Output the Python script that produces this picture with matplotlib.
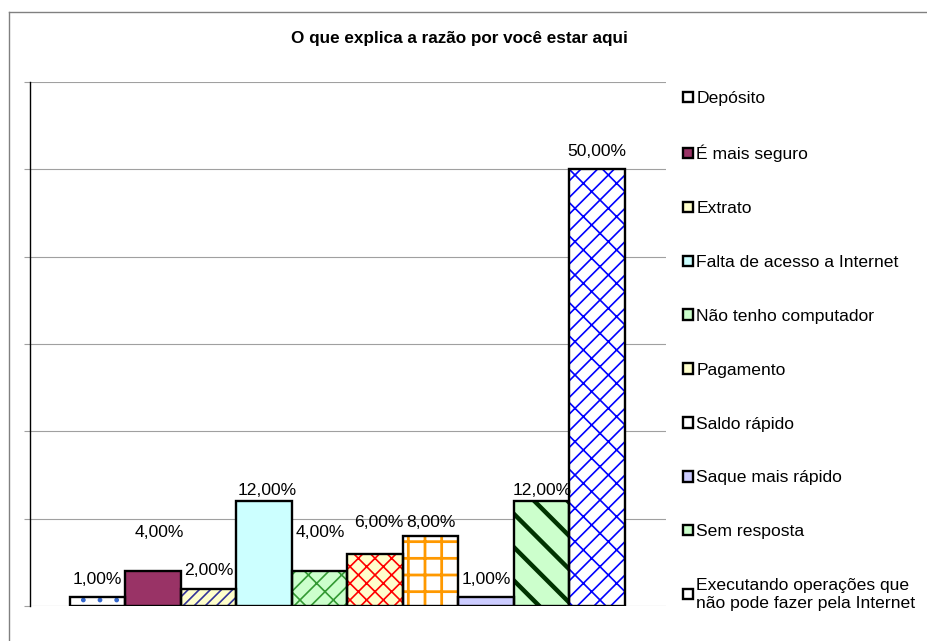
import matplotlib.pyplot as plt
from matplotlib.patches import Patch
from matplotlib.lines import Line2D

plt.rcParams['font.family'] = ['Liberation Sans', 'DejaVu Sans']
plt.rcParams['hatch.linewidth'] = 1.2

categorias = ["Depósito", "É mais seguro", "Extrato", "Falta de acesso a Internet",
              "Não tenho computador", "Pagamento", "Saldo rápido", "Saque mais rápido",
              "Sem resposta", "Executando operações que\nnão pode fazer pela Internet"]
valores = [1, 4, 2, 12, 4, 6, 8, 1, 12, 50]
rotulos = ["1,00%", "4,00%", "2,00%", "12,00%", "4,00%", "6,00%", "8,00%", "1,00%", "12,00%", "50,00%"]

# estilo de cada barra: fundo, cor da hachura, hachura
fundos = ["white", "#993366", "#FFFFCC", "#CCFFFF", "#CCFFCC", "#FFFFCC", "white", "#CCCCFF", "#CCFFCC", "white"]
cores_hach = ["#3366CC", "#993366", "#333399", "#CCFFFF", "#339933", "#FF0000", "#FF9900", "#CCCCFF", "#003300", "#0000FF"]
hachuras = [".", "", "///", "", "x/", "xx", "+", "", "\\", "x/"]
larg_hach = [1.0, 1.2, 1.2, 1.2, 1.2, 1.2, 2.0, 1.2, 3.2, 1.2]
# deslocamento dos rotulos (pixels) em relacao ao topo da barra
desloc = [(0, 18), (6, 39), (0, 18), (3, 11), (1, 39), (4, 31), (0, 14), (0, 18), (0, 11), (0, 18)]

fig = plt.figure(figsize=(9.28, 6.41), dpi=100)
ax = fig.add_axes([30 / 928, 35 / 641, 636 / 928, 524 / 641])

x = list(range(len(valores)))
barras = ax.bar(x, valores, width=1.0, color=fundos, edgecolor=cores_hach, linewidth=0, zorder=2)
for b, h, lw in zip(barras, hachuras, larg_hach):
    if h:
        b.set_hatch(h)
        if hasattr(b, "set_hatch_linewidth"):
            b.set_hatch_linewidth(lw)
ax.bar(x, valores, width=1.0, facecolor="none", edgecolor="black", linewidth=1.7, zorder=3)

for xi, v, r, (dx, dy) in zip(x, valores, rotulos, desloc):
    ax.annotate(r, (xi, v), xytext=(dx, dy), textcoords="offset pixels",
                ha="center", va="center", fontsize=12.6)

ax.set_xlim(-0.5 - 40 / 55.5, 9.5 + 41 / 55.5)
ax.set_ylim(0, 60)
ax.set_yticks(range(0, 61, 10))
ax.set_yticklabels([])
ax.set_xticks([])
ax.tick_params(axis="y", length=4.3, color="#a0a0a0", width=0.8)
ax.grid(axis="y", color="#a0a0a0", linewidth=0.8, zorder=0)
ax.set_axisbelow(True)
for s in ["top", "right", "bottom"]:
    ax.spines[s].set_visible(False)
ax.spines["left"].set_color("black")
ax.spines["left"].set_linewidth(1.0)

fig.text(459 / 928, 1 - 39 / 641, "O que explica a razão por você estar aqui",
         ha="center", va="center", fontsize=12.3, fontweight="bold")

handles = [Patch(facecolor=f, edgecolor="black", linewidth=1.7) for f in fundos]
fig.legend(handles, categorias, loc="upper left", bbox_to_anchor=(683 / 928, 1 - 91 / 641),
           frameon=False, fontsize=12.6, handlelength=0.55, handleheight=0.55,
           handletextpad=0.2, labelspacing=2.22, borderpad=0, borderaxespad=0)

# moldura do grafico
fig.add_artist(Line2D([9 / 928, 9 / 928], [0, 1 - 12 / 641], color="#808080", linewidth=1))
fig.add_artist(Line2D([9 / 928, 1], [1 - 12 / 641, 1 - 12 / 641], color="#808080", linewidth=1))

fig.savefig("out.png", dpi=100)
